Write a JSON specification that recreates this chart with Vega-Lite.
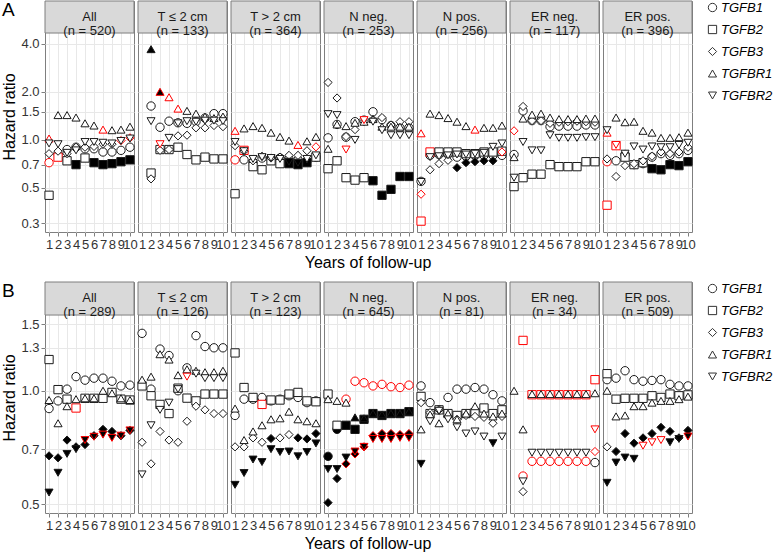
{
"$schema": "https://vega.github.io/schema/vega-lite/v6.json",
"background": "white",
"padding": {"left": 1, "top": 0, "right": 0, "bottom": 0},
"config": {
  "font": "Liberation Sans",
  "view": {"stroke": "#7f7f7f", "strokeWidth": 1},
  "axis": {"labelFont": "Liberation Sans", "labelFontSize": 13, "labelColor": "#333333", "tickColor": "#7f7f7f", "tickSize": 4, "labelPadding": 2, "domain": false, "gridColor": "#e8e8e8", "titleFont": "Liberation Sans", "titleFontSize": 16, "titleFontWeight": "normal", "titleColor": "#000000"},
  "header": {"titleFont": "Liberation Sans", "titleFontSize": 16, "titleFontWeight": "normal", "titleColor": "#000000"},
  "legend": {"labelFont": "Liberation Sans", "labelFontSize": 13, "labelFontStyle": "italic", "labelColor": "#000000", "rowPadding": 8, "padding": 0, "offset": 10, "labelOffset": 2}
},
"datasets": {
"a": [
{"p":"All","g":"TGFB1","year":1,"hr":0.72,"s":"r"},{"p":"All","g":"TGFB1","year":2,"hr":0.82,"s":"o"},{"p":"All","g":"TGFB1","year":3,"hr":0.87,"s":"o"},{"p":"All","g":"TGFB1","year":4,"hr":0.9,"s":"o"},{"p":"All","g":"TGFB1","year":5,"hr":0.88,"s":"o"},{"p":"All","g":"TGFB1","year":6,"hr":0.88,"s":"o"},{"p":"All","g":"TGFB1","year":7,"hr":0.84,"s":"o"},{"p":"All","g":"TGFB1","year":8,"hr":0.84,"s":"o"},{"p":"All","g":"TGFB1","year":9,"hr":0.86,"s":"o"},{"p":"All","g":"TGFB1","year":10,"hr":0.9,"s":"o"},
{"p":"All","g":"TGFB2","year":1,"hr":0.45,"s":"o"},{"p":"All","g":"TGFB2","year":2,"hr":0.78,"s":"r"},{"p":"All","g":"TGFB2","year":3,"hr":0.74,"s":"o"},{"p":"All","g":"TGFB2","year":4,"hr":0.7,"s":"f"},{"p":"All","g":"TGFB2","year":5,"hr":0.77,"s":"o"},{"p":"All","g":"TGFB2","year":6,"hr":0.72,"s":"f"},{"p":"All","g":"TGFB2","year":7,"hr":0.7,"s":"f"},{"p":"All","g":"TGFB2","year":8,"hr":0.71,"s":"f"},{"p":"All","g":"TGFB2","year":9,"hr":0.73,"s":"f"},{"p":"All","g":"TGFB2","year":10,"hr":0.75,"s":"f"},
{"p":"All","g":"TGFB3","year":1,"hr":0.82,"s":"o"},{"p":"All","g":"TGFB3","year":2,"hr":0.85,"s":"o"},{"p":"All","g":"TGFB3","year":3,"hr":0.82,"s":"o"},{"p":"All","g":"TGFB3","year":4,"hr":0.9,"s":"o"},{"p":"All","g":"TGFB3","year":5,"hr":0.9,"s":"o"},{"p":"All","g":"TGFB3","year":6,"hr":0.91,"s":"o"},{"p":"All","g":"TGFB3","year":7,"hr":0.94,"s":"o"},{"p":"All","g":"TGFB3","year":8,"hr":0.94,"s":"o"},{"p":"All","g":"TGFB3","year":9,"hr":0.99,"s":"r"},{"p":"All","g":"TGFB3","year":10,"hr":1.03,"s":"r"},
{"p":"All","g":"TGFBR1","year":1,"hr":1.02,"s":"r"},{"p":"All","g":"TGFBR1","year":2,"hr":1.43,"s":"o"},{"p":"All","g":"TGFBR1","year":3,"hr":1.43,"s":"o"},{"p":"All","g":"TGFBR1","year":4,"hr":1.38,"s":"o"},{"p":"All","g":"TGFBR1","year":5,"hr":1.27,"s":"o"},{"p":"All","g":"TGFBR1","year":6,"hr":1.23,"s":"o"},{"p":"All","g":"TGFBR1","year":7,"hr":1.16,"s":"r"},{"p":"All","g":"TGFBR1","year":8,"hr":1.15,"s":"o"},{"p":"All","g":"TGFBR1","year":9,"hr":1.16,"s":"o"},{"p":"All","g":"TGFBR1","year":10,"hr":1.21,"s":"o"},
{"p":"All","g":"TGFBR2","year":1,"hr":0.95,"s":"o"},{"p":"All","g":"TGFBR2","year":2,"hr":0.94,"s":"o"},{"p":"All","g":"TGFBR2","year":3,"hr":0.83,"s":"o"},{"p":"All","g":"TGFBR2","year":4,"hr":0.86,"s":"o"},{"p":"All","g":"TGFBR2","year":5,"hr":0.97,"s":"o"},{"p":"All","g":"TGFBR2","year":6,"hr":0.97,"s":"o"},{"p":"All","g":"TGFBR2","year":7,"hr":0.96,"s":"o"},{"p":"All","g":"TGFBR2","year":8,"hr":0.95,"s":"o"},{"p":"All","g":"TGFBR2","year":9,"hr":0.985,"s":"o"},{"p":"All","g":"TGFBR2","year":10,"hr":1.02,"s":"o"},
{"p":"Tle2","g":"TGFB1","year":2,"hr":1.63,"s":"o"},{"p":"Tle2","g":"TGFB1","year":3,"hr":1.2,"s":"o"},{"p":"Tle2","g":"TGFB1","year":4,"hr":1.31,"s":"o"},{"p":"Tle2","g":"TGFB1","year":5,"hr":1.28,"s":"o"},{"p":"Tle2","g":"TGFB1","year":6,"hr":1.27,"s":"o"},{"p":"Tle2","g":"TGFB1","year":7,"hr":1.3,"s":"o"},{"p":"Tle2","g":"TGFB1","year":8,"hr":1.37,"s":"o"},{"p":"Tle2","g":"TGFB1","year":9,"hr":1.46,"s":"o"},{"p":"Tle2","g":"TGFB1","year":10,"hr":1.46,"s":"o"},
{"p":"Tle2","g":"TGFB2","year":2,"hr":0.62,"s":"o"},{"p":"Tle2","g":"TGFB2","year":3,"hr":0.87,"s":"o"},{"p":"Tle2","g":"TGFB2","year":4,"hr":0.87,"s":"o"},{"p":"Tle2","g":"TGFB2","year":5,"hr":0.9,"s":"o"},{"p":"Tle2","g":"TGFB2","year":6,"hr":0.81,"s":"o"},{"p":"Tle2","g":"TGFB2","year":7,"hr":0.75,"s":"o"},{"p":"Tle2","g":"TGFB2","year":8,"hr":0.78,"s":"o"},{"p":"Tle2","g":"TGFB2","year":9,"hr":0.76,"s":"o"},{"p":"Tle2","g":"TGFB2","year":10,"hr":0.76,"s":"o"},
{"p":"Tle2","g":"TGFB3","year":2,"hr":0.57,"s":"o"},{"p":"Tle2","g":"TGFB3","year":3,"hr":0.86,"s":"o"},{"p":"Tle2","g":"TGFB3","year":4,"hr":0.87,"s":"o"},{"p":"Tle2","g":"TGFB3","year":5,"hr":1.06,"s":"o"},{"p":"Tle2","g":"TGFB3","year":6,"hr":1.07,"s":"o"},{"p":"Tle2","g":"TGFB3","year":7,"hr":1.19,"s":"o"},{"p":"Tle2","g":"TGFB3","year":8,"hr":1.19,"s":"o"},{"p":"Tle2","g":"TGFB3","year":9,"hr":1.23,"s":"o"},{"p":"Tle2","g":"TGFB3","year":10,"hr":1.21,"s":"o"},
{"p":"Tle2","g":"TGFBR1","year":2,"hr":3.7,"s":"f"},{"p":"Tle2","g":"TGFBR1","year":3,"hr":2.0,"s":"rf"},{"p":"Tle2","g":"TGFBR1","year":4,"hr":1.85,"s":"r"},{"p":"Tle2","g":"TGFBR1","year":5,"hr":1.57,"s":"r"},{"p":"Tle2","g":"TGFBR1","year":6,"hr":1.52,"s":"o"},{"p":"Tle2","g":"TGFBR1","year":7,"hr":1.46,"s":"o"},{"p":"Tle2","g":"TGFBR1","year":8,"hr":1.4,"s":"o"},{"p":"Tle2","g":"TGFBR1","year":9,"hr":1.37,"s":"o"},{"p":"Tle2","g":"TGFBR1","year":10,"hr":1.4,"s":"o"},
{"p":"Tle2","g":"TGFBR2","year":2,"hr":1.31,"s":"o"},{"p":"Tle2","g":"TGFBR2","year":3,"hr":0.94,"s":"r"},{"p":"Tle2","g":"TGFBR2","year":4,"hr":1.03,"s":"o"},{"p":"Tle2","g":"TGFBR2","year":5,"hr":1.27,"s":"o"},{"p":"Tle2","g":"TGFBR2","year":6,"hr":1.31,"s":"o"},{"p":"Tle2","g":"TGFBR2","year":7,"hr":1.3,"s":"o"},{"p":"Tle2","g":"TGFBR2","year":8,"hr":1.32,"s":"o"},{"p":"Tle2","g":"TGFBR2","year":9,"hr":1.32,"s":"o"},{"p":"Tle2","g":"TGFBR2","year":10,"hr":1.31,"s":"o"},
{"p":"Tgt2","g":"TGFB1","year":1,"hr":0.75,"s":"r"},{"p":"Tgt2","g":"TGFB1","year":2,"hr":0.75,"s":"o"},{"p":"Tgt2","g":"TGFB1","year":3,"hr":0.73,"s":"o"},{"p":"Tgt2","g":"TGFB1","year":4,"hr":0.77,"s":"o"},{"p":"Tgt2","g":"TGFB1","year":5,"hr":0.76,"s":"o"},{"p":"Tgt2","g":"TGFB1","year":6,"hr":0.77,"s":"o"},{"p":"Tgt2","g":"TGFB1","year":7,"hr":0.76,"s":"o"},{"p":"Tgt2","g":"TGFB1","year":8,"hr":0.75,"s":"o"},{"p":"Tgt2","g":"TGFB1","year":9,"hr":0.74,"s":"f"},{"p":"Tgt2","g":"TGFB1","year":10,"hr":0.78,"s":"o"},
{"p":"Tgt2","g":"TGFB2","year":1,"hr":0.46,"s":"o"},{"p":"Tgt2","g":"TGFB2","year":2,"hr":0.86,"s":"r"},{"p":"Tgt2","g":"TGFB2","year":3,"hr":0.68,"s":"o"},{"p":"Tgt2","g":"TGFB2","year":4,"hr":0.65,"s":"o"},{"p":"Tgt2","g":"TGFB2","year":5,"hr":0.74,"s":"o"},{"p":"Tgt2","g":"TGFB2","year":6,"hr":0.71,"s":"o"},{"p":"Tgt2","g":"TGFB2","year":7,"hr":0.71,"s":"f"},{"p":"Tgt2","g":"TGFB2","year":8,"hr":0.7,"s":"f"},{"p":"Tgt2","g":"TGFB2","year":9,"hr":0.72,"s":"f"},{"p":"Tgt2","g":"TGFB2","year":10,"hr":0.78,"s":"o"},
{"p":"Tgt2","g":"TGFB3","year":1,"hr":0.92,"s":"o"},{"p":"Tgt2","g":"TGFB3","year":2,"hr":0.85,"s":"o"},{"p":"Tgt2","g":"TGFB3","year":3,"hr":0.74,"s":"o"},{"p":"Tgt2","g":"TGFB3","year":4,"hr":0.79,"s":"o"},{"p":"Tgt2","g":"TGFB3","year":5,"hr":0.77,"s":"o"},{"p":"Tgt2","g":"TGFB3","year":6,"hr":0.78,"s":"o"},{"p":"Tgt2","g":"TGFB3","year":7,"hr":0.8,"s":"o"},{"p":"Tgt2","g":"TGFB3","year":8,"hr":0.8,"s":"o"},{"p":"Tgt2","g":"TGFB3","year":9,"hr":0.855,"s":"o"},{"p":"Tgt2","g":"TGFB3","year":10,"hr":0.905,"s":"r"},
{"p":"Tgt2","g":"TGFBR1","year":1,"hr":1.14,"s":"r"},{"p":"Tgt2","g":"TGFBR1","year":2,"hr":1.18,"s":"o"},{"p":"Tgt2","g":"TGFBR1","year":3,"hr":1.22,"s":"o"},{"p":"Tgt2","g":"TGFBR1","year":4,"hr":1.19,"s":"o"},{"p":"Tgt2","g":"TGFBR1","year":5,"hr":1.11,"s":"o"},{"p":"Tgt2","g":"TGFBR1","year":6,"hr":1.045,"s":"o"},{"p":"Tgt2","g":"TGFBR1","year":7,"hr":0.99,"s":"o"},{"p":"Tgt2","g":"TGFBR1","year":8,"hr":0.93,"s":"r"},{"p":"Tgt2","g":"TGFBR1","year":9,"hr":0.98,"s":"o"},{"p":"Tgt2","g":"TGFBR1","year":10,"hr":1.045,"s":"o"},
{"p":"Tgt2","g":"TGFBR2","year":1,"hr":0.97,"s":"o"},{"p":"Tgt2","g":"TGFBR2","year":2,"hr":0.85,"s":"o"},{"p":"Tgt2","g":"TGFBR2","year":3,"hr":0.76,"s":"o"},{"p":"Tgt2","g":"TGFBR2","year":4,"hr":0.78,"s":"o"},{"p":"Tgt2","g":"TGFBR2","year":5,"hr":0.77,"s":"o"},{"p":"Tgt2","g":"TGFBR2","year":6,"hr":0.76,"s":"o"},{"p":"Tgt2","g":"TGFBR2","year":7,"hr":0.73,"s":"f"},{"p":"Tgt2","g":"TGFBR2","year":8,"hr":0.72,"s":"f"},{"p":"Tgt2","g":"TGFBR2","year":9,"hr":0.76,"s":"o"},{"p":"Tgt2","g":"TGFBR2","year":10,"hr":0.8,"s":"o"},
{"p":"Nneg","g":"TGFB1","year":1,"hr":1.03,"s":"o"},{"p":"Nneg","g":"TGFB1","year":2,"hr":1.25,"s":"o"},{"p":"Nneg","g":"TGFB1","year":3,"hr":1.04,"s":"o"},{"p":"Nneg","g":"TGFB1","year":4,"hr":1.3,"s":"o"},{"p":"Nneg","g":"TGFB1","year":5,"hr":1.33,"s":"o"},{"p":"Nneg","g":"TGFB1","year":6,"hr":1.5,"s":"o"},{"p":"Nneg","g":"TGFB1","year":7,"hr":1.34,"s":"o"},{"p":"Nneg","g":"TGFB1","year":8,"hr":1.23,"s":"o"},{"p":"Nneg","g":"TGFB1","year":9,"hr":1.19,"s":"o"},{"p":"Nneg","g":"TGFB1","year":10,"hr":1.19,"s":"o"},
{"p":"Nneg","g":"TGFB2","year":1,"hr":0.66,"s":"o"},{"p":"Nneg","g":"TGFB2","year":2,"hr":0.74,"s":"o"},{"p":"Nneg","g":"TGFB2","year":3,"hr":0.58,"s":"o"},{"p":"Nneg","g":"TGFB2","year":4,"hr":0.56,"s":"o"},{"p":"Nneg","g":"TGFB2","year":5,"hr":0.58,"s":"o"},{"p":"Nneg","g":"TGFB2","year":6,"hr":0.555,"s":"f"},{"p":"Nneg","g":"TGFB2","year":7,"hr":0.45,"s":"f"},{"p":"Nneg","g":"TGFB2","year":8,"hr":0.49,"s":"f"},{"p":"Nneg","g":"TGFB2","year":9,"hr":0.59,"s":"f"},{"p":"Nneg","g":"TGFB2","year":10,"hr":0.59,"s":"f"},
{"p":"Nneg","g":"TGFB3","year":1,"hr":2.29,"s":"o"},{"p":"Nneg","g":"TGFB3","year":2,"hr":1.83,"s":"o"},{"p":"Nneg","g":"TGFB3","year":3,"hr":1.05,"s":"o"},{"p":"Nneg","g":"TGFB3","year":4,"hr":1.16,"s":"o"},{"p":"Nneg","g":"TGFB3","year":5,"hr":1.3,"s":"o"},{"p":"Nneg","g":"TGFB3","year":6,"hr":1.34,"s":"o"},{"p":"Nneg","g":"TGFB3","year":7,"hr":1.38,"s":"o"},{"p":"Nneg","g":"TGFB3","year":8,"hr":1.24,"s":"o"},{"p":"Nneg","g":"TGFB3","year":9,"hr":1.3,"s":"o"},{"p":"Nneg","g":"TGFB3","year":10,"hr":1.3,"s":"o"},
{"p":"Nneg","g":"TGFBR1","year":1,"hr":0.88,"s":"o"},{"p":"Nneg","g":"TGFBR1","year":2,"hr":1.25,"s":"o"},{"p":"Nneg","g":"TGFBR1","year":3,"hr":1.22,"s":"o"},{"p":"Nneg","g":"TGFBR1","year":4,"hr":1.28,"s":"o"},{"p":"Nneg","g":"TGFBR1","year":5,"hr":1.3,"s":"o"},{"p":"Nneg","g":"TGFBR1","year":6,"hr":1.35,"s":"o"},{"p":"Nneg","g":"TGFBR1","year":7,"hr":1.21,"s":"o"},{"p":"Nneg","g":"TGFBR1","year":8,"hr":1.21,"s":"o"},{"p":"Nneg","g":"TGFBR1","year":9,"hr":1.21,"s":"o"},{"p":"Nneg","g":"TGFBR1","year":10,"hr":1.21,"s":"o"},
{"p":"Nneg","g":"TGFBR2","year":1,"hr":1.45,"s":"o"},{"p":"Nneg","g":"TGFBR2","year":2,"hr":1.43,"s":"o"},{"p":"Nneg","g":"TGFBR2","year":3,"hr":0.87,"s":"r"},{"p":"Nneg","g":"TGFBR2","year":4,"hr":1.0,"s":"o"},{"p":"Nneg","g":"TGFBR2","year":5,"hr":1.33,"s":"r"},{"p":"Nneg","g":"TGFBR2","year":6,"hr":1.3,"s":"o"},{"p":"Nneg","g":"TGFBR2","year":7,"hr":1.15,"s":"o"},{"p":"Nneg","g":"TGFBR2","year":8,"hr":1.07,"s":"o"},{"p":"Nneg","g":"TGFBR2","year":9,"hr":1.07,"s":"o"},{"p":"Nneg","g":"TGFBR2","year":10,"hr":1.07,"s":"o"},
{"p":"Npos","g":"TGFB1","year":1,"hr":0.55,"s":"o"},{"p":"Npos","g":"TGFB1","year":2,"hr":0.8,"s":"o"},{"p":"Npos","g":"TGFB1","year":3,"hr":0.81,"s":"o"},{"p":"Npos","g":"TGFB1","year":4,"hr":0.81,"s":"o"},{"p":"Npos","g":"TGFB1","year":5,"hr":0.78,"s":"o"},{"p":"Npos","g":"TGFB1","year":6,"hr":0.79,"s":"o"},{"p":"Npos","g":"TGFB1","year":7,"hr":0.8,"s":"o"},{"p":"Npos","g":"TGFB1","year":8,"hr":0.8,"s":"o"},{"p":"Npos","g":"TGFB1","year":9,"hr":0.8,"s":"o"},{"p":"Npos","g":"TGFB1","year":10,"hr":0.8,"s":"o"},
{"p":"Npos","g":"TGFB2","year":1,"hr":0.31,"s":"r"},{"p":"Npos","g":"TGFB2","year":2,"hr":0.84,"s":"r"},{"p":"Npos","g":"TGFB2","year":3,"hr":0.84,"s":"o"},{"p":"Npos","g":"TGFB2","year":4,"hr":0.84,"s":"o"},{"p":"Npos","g":"TGFB2","year":5,"hr":0.84,"s":"o"},{"p":"Npos","g":"TGFB2","year":6,"hr":0.82,"s":"o"},{"p":"Npos","g":"TGFB2","year":7,"hr":0.82,"s":"o"},{"p":"Npos","g":"TGFB2","year":8,"hr":0.84,"s":"o"},{"p":"Npos","g":"TGFB2","year":9,"hr":0.84,"s":"o"},{"p":"Npos","g":"TGFB2","year":10,"hr":0.85,"s":"o"},
{"p":"Npos","g":"TGFB3","year":1,"hr":0.457,"s":"r"},{"p":"Npos","g":"TGFB3","year":2,"hr":0.65,"s":"o"},{"p":"Npos","g":"TGFB3","year":3,"hr":0.71,"s":"o"},{"p":"Npos","g":"TGFB3","year":4,"hr":0.745,"s":"o"},{"p":"Npos","g":"TGFB3","year":5,"hr":0.67,"s":"f"},{"p":"Npos","g":"TGFB3","year":6,"hr":0.72,"s":"f"},{"p":"Npos","g":"TGFB3","year":7,"hr":0.73,"s":"f"},{"p":"Npos","g":"TGFB3","year":8,"hr":0.74,"s":"f"},{"p":"Npos","g":"TGFB3","year":9,"hr":0.74,"s":"f"},{"p":"Npos","g":"TGFB3","year":10,"hr":0.84,"s":"r"},
{"p":"Npos","g":"TGFBR1","year":1,"hr":1.1,"s":"r"},{"p":"Npos","g":"TGFBR1","year":2,"hr":1.46,"s":"o"},{"p":"Npos","g":"TGFBR1","year":3,"hr":1.43,"s":"o"},{"p":"Npos","g":"TGFBR1","year":4,"hr":1.37,"s":"o"},{"p":"Npos","g":"TGFBR1","year":5,"hr":1.3,"s":"o"},{"p":"Npos","g":"TGFBR1","year":6,"hr":1.22,"s":"o"},{"p":"Npos","g":"TGFBR1","year":7,"hr":1.16,"s":"r"},{"p":"Npos","g":"TGFBR1","year":8,"hr":1.19,"s":"o"},{"p":"Npos","g":"TGFBR1","year":9,"hr":1.19,"s":"o"},{"p":"Npos","g":"TGFBR1","year":10,"hr":1.23,"s":"o"},
{"p":"Npos","g":"TGFBR2","year":1,"hr":0.545,"s":"o"},{"p":"Npos","g":"TGFBR2","year":2,"hr":0.78,"s":"o"},{"p":"Npos","g":"TGFBR2","year":3,"hr":0.79,"s":"o"},{"p":"Npos","g":"TGFBR2","year":4,"hr":0.8,"s":"o"},{"p":"Npos","g":"TGFBR2","year":5,"hr":0.81,"s":"o"},{"p":"Npos","g":"TGFBR2","year":6,"hr":0.81,"s":"o"},{"p":"Npos","g":"TGFBR2","year":7,"hr":0.82,"s":"o"},{"p":"Npos","g":"TGFBR2","year":8,"hr":0.83,"s":"o"},{"p":"Npos","g":"TGFBR2","year":9,"hr":0.905,"s":"o"},{"p":"Npos","g":"TGFBR2","year":10,"hr":0.95,"s":"o"},
{"p":"ERneg","g":"TGFB1","year":1,"hr":0.81,"s":"o"},{"p":"ERneg","g":"TGFB1","year":2,"hr":1.52,"s":"o"},{"p":"ERneg","g":"TGFB1","year":3,"hr":1.32,"s":"o"},{"p":"ERneg","g":"TGFB1","year":4,"hr":1.32,"s":"o"},{"p":"ERneg","g":"TGFB1","year":5,"hr":1.21,"s":"o"},{"p":"ERneg","g":"TGFB1","year":6,"hr":1.22,"s":"o"},{"p":"ERneg","g":"TGFB1","year":7,"hr":1.22,"s":"o"},{"p":"ERneg","g":"TGFB1","year":8,"hr":1.22,"s":"o"},{"p":"ERneg","g":"TGFB1","year":9,"hr":1.24,"s":"o"},{"p":"ERneg","g":"TGFB1","year":10,"hr":1.24,"s":"o"},
{"p":"ERneg","g":"TGFB2","year":1,"hr":0.51,"s":"o"},{"p":"ERneg","g":"TGFB2","year":2,"hr":0.58,"s":"o"},{"p":"ERneg","g":"TGFB2","year":3,"hr":0.61,"s":"o"},{"p":"ERneg","g":"TGFB2","year":4,"hr":0.61,"s":"o"},{"p":"ERneg","g":"TGFB2","year":5,"hr":0.7,"s":"o"},{"p":"ERneg","g":"TGFB2","year":6,"hr":0.68,"s":"o"},{"p":"ERneg","g":"TGFB2","year":7,"hr":0.68,"s":"o"},{"p":"ERneg","g":"TGFB2","year":8,"hr":0.68,"s":"o"},{"p":"ERneg","g":"TGFB2","year":9,"hr":0.73,"s":"o"},{"p":"ERneg","g":"TGFB2","year":10,"hr":0.73,"s":"o"},
{"p":"ERneg","g":"TGFB3","year":1,"hr":1.14,"s":"r"},{"p":"ERneg","g":"TGFB3","year":2,"hr":1.62,"s":"o"},{"p":"ERneg","g":"TGFB3","year":3,"hr":1.32,"s":"o"},{"p":"ERneg","g":"TGFB3","year":4,"hr":1.32,"s":"o"},{"p":"ERneg","g":"TGFB3","year":5,"hr":1.27,"s":"o"},{"p":"ERneg","g":"TGFB3","year":6,"hr":1.29,"s":"o"},{"p":"ERneg","g":"TGFB3","year":7,"hr":1.3,"s":"o"},{"p":"ERneg","g":"TGFB3","year":8,"hr":1.31,"s":"o"},{"p":"ERneg","g":"TGFB3","year":9,"hr":1.3,"s":"o"},{"p":"ERneg","g":"TGFB3","year":10,"hr":1.29,"s":"o"},
{"p":"ERneg","g":"TGFBR1","year":1,"hr":0.78,"s":"o"},{"p":"ERneg","g":"TGFBR1","year":2,"hr":1.36,"s":"o"},{"p":"ERneg","g":"TGFBR1","year":3,"hr":1.44,"s":"o"},{"p":"ERneg","g":"TGFBR1","year":4,"hr":1.46,"s":"o"},{"p":"ERneg","g":"TGFBR1","year":5,"hr":1.38,"s":"o"},{"p":"ERneg","g":"TGFBR1","year":6,"hr":1.35,"s":"o"},{"p":"ERneg","g":"TGFBR1","year":7,"hr":1.35,"s":"o"},{"p":"ERneg","g":"TGFBR1","year":8,"hr":1.35,"s":"o"},{"p":"ERneg","g":"TGFBR1","year":9,"hr":1.36,"s":"o"},{"p":"ERneg","g":"TGFBR1","year":10,"hr":1.36,"s":"o"},
{"p":"ERneg","g":"TGFBR2","year":1,"hr":0.58,"s":"o"},{"p":"ERneg","g":"TGFBR2","year":2,"hr":0.97,"s":"o"},{"p":"ERneg","g":"TGFBR2","year":3,"hr":0.86,"s":"o"},{"p":"ERneg","g":"TGFBR2","year":4,"hr":0.86,"s":"o"},{"p":"ERneg","g":"TGFBR2","year":5,"hr":1.07,"s":"o"},{"p":"ERneg","g":"TGFBR2","year":6,"hr":1.03,"s":"o"},{"p":"ERneg","g":"TGFBR2","year":7,"hr":1.03,"s":"o"},{"p":"ERneg","g":"TGFBR2","year":8,"hr":1.03,"s":"o"},{"p":"ERneg","g":"TGFBR2","year":9,"hr":1.04,"s":"o"},{"p":"ERneg","g":"TGFBR2","year":10,"hr":1.04,"s":"o"},
{"p":"ERpos","g":"TGFB1","year":1,"hr":0.73,"s":"r"},{"p":"ERpos","g":"TGFB1","year":2,"hr":0.74,"s":"o"},{"p":"ERpos","g":"TGFB1","year":3,"hr":0.81,"s":"o"},{"p":"ERpos","g":"TGFB1","year":4,"hr":0.7,"s":"o"},{"p":"ERpos","g":"TGFB1","year":5,"hr":0.71,"s":"o"},{"p":"ERpos","g":"TGFB1","year":6,"hr":0.78,"s":"o"},{"p":"ERpos","g":"TGFB1","year":7,"hr":0.82,"s":"o"},{"p":"ERpos","g":"TGFB1","year":8,"hr":0.8,"s":"o"},{"p":"ERpos","g":"TGFB1","year":9,"hr":0.82,"s":"o"},{"p":"ERpos","g":"TGFB1","year":10,"hr":0.86,"s":"o"},
{"p":"ERpos","g":"TGFB2","year":1,"hr":0.39,"s":"r"},{"p":"ERpos","g":"TGFB2","year":2,"hr":0.92,"s":"r"},{"p":"ERpos","g":"TGFB2","year":3,"hr":0.78,"s":"o"},{"p":"ERpos","g":"TGFB2","year":4,"hr":0.7,"s":"o"},{"p":"ERpos","g":"TGFB2","year":5,"hr":0.72,"s":"o"},{"p":"ERpos","g":"TGFB2","year":6,"hr":0.66,"s":"f"},{"p":"ERpos","g":"TGFB2","year":7,"hr":0.65,"s":"f"},{"p":"ERpos","g":"TGFB2","year":8,"hr":0.7,"s":"f"},{"p":"ERpos","g":"TGFB2","year":9,"hr":0.69,"s":"f"},{"p":"ERpos","g":"TGFB2","year":10,"hr":0.73,"s":"f"},
{"p":"ERpos","g":"TGFB3","year":1,"hr":0.76,"s":"o"},{"p":"ERpos","g":"TGFB3","year":2,"hr":0.59,"s":"o"},{"p":"ERpos","g":"TGFB3","year":3,"hr":0.69,"s":"o"},{"p":"ERpos","g":"TGFB3","year":4,"hr":0.71,"s":"o"},{"p":"ERpos","g":"TGFB3","year":5,"hr":0.74,"s":"o"},{"p":"ERpos","g":"TGFB3","year":6,"hr":0.79,"s":"o"},{"p":"ERpos","g":"TGFB3","year":7,"hr":0.84,"s":"o"},{"p":"ERpos","g":"TGFB3","year":8,"hr":0.82,"s":"o"},{"p":"ERpos","g":"TGFB3","year":9,"hr":0.84,"s":"o"},{"p":"ERpos","g":"TGFB3","year":10,"hr":0.9,"s":"o"},
{"p":"ERpos","g":"TGFBR1","year":1,"hr":1.11,"s":"r"},{"p":"ERpos","g":"TGFBR1","year":2,"hr":1.38,"s":"o"},{"p":"ERpos","g":"TGFBR1","year":3,"hr":1.29,"s":"o"},{"p":"ERpos","g":"TGFBR1","year":4,"hr":1.3,"s":"o"},{"p":"ERpos","g":"TGFBR1","year":5,"hr":1.14,"s":"o"},{"p":"ERpos","g":"TGFBR1","year":6,"hr":1.11,"s":"o"},{"p":"ERpos","g":"TGFBR1","year":7,"hr":1.03,"s":"o"},{"p":"ERpos","g":"TGFBR1","year":8,"hr":1.03,"s":"o"},{"p":"ERpos","g":"TGFBR1","year":9,"hr":1.04,"s":"o"},{"p":"ERpos","g":"TGFBR1","year":10,"hr":1.11,"s":"o"},
{"p":"ERpos","g":"TGFBR2","year":1,"hr":1.15,"s":"o"},{"p":"ERpos","g":"TGFBR2","year":2,"hr":0.93,"s":"r"},{"p":"ERpos","g":"TGFBR2","year":3,"hr":0.82,"s":"o"},{"p":"ERpos","g":"TGFBR2","year":4,"hr":0.91,"s":"o"},{"p":"ERpos","g":"TGFBR2","year":5,"hr":0.87,"s":"o"},{"p":"ERpos","g":"TGFBR2","year":6,"hr":0.91,"s":"o"},{"p":"ERpos","g":"TGFBR2","year":7,"hr":0.9,"s":"o"},{"p":"ERpos","g":"TGFBR2","year":8,"hr":0.9,"s":"o"},{"p":"ERpos","g":"TGFBR2","year":9,"hr":0.93,"s":"o"},{"p":"ERpos","g":"TGFBR2","year":10,"hr":0.96,"s":"o"}
],
"b": [
{"p":"All","g":"TGFB1","year":1,"hr":0.897,"s":"o"},{"p":"All","g":"TGFB1","year":2,"hr":0.94,"s":"o"},{"p":"All","g":"TGFB1","year":3,"hr":1.01,"s":"o"},{"p":"All","g":"TGFB1","year":4,"hr":1.09,"s":"o"},{"p":"All","g":"TGFB1","year":5,"hr":1.067,"s":"o"},{"p":"All","g":"TGFB1","year":6,"hr":1.08,"s":"o"},{"p":"All","g":"TGFB1","year":7,"hr":1.08,"s":"o"},{"p":"All","g":"TGFB1","year":8,"hr":1.06,"s":"o"},{"p":"All","g":"TGFB1","year":9,"hr":1.03,"s":"o"},{"p":"All","g":"TGFB1","year":10,"hr":1.035,"s":"o"},
{"p":"All","g":"TGFB2","year":1,"hr":1.21,"s":"o"},{"p":"All","g":"TGFB2","year":2,"hr":1.007,"s":"o"},{"p":"All","g":"TGFB2","year":3,"hr":0.95,"s":"o"},{"p":"All","g":"TGFB2","year":4,"hr":0.9,"s":"r"},{"p":"All","g":"TGFB2","year":5,"hr":0.955,"s":"o"},{"p":"All","g":"TGFB2","year":6,"hr":0.955,"s":"o"},{"p":"All","g":"TGFB2","year":7,"hr":0.955,"s":"o"},{"p":"All","g":"TGFB2","year":8,"hr":0.99,"s":"o"},{"p":"All","g":"TGFB2","year":9,"hr":0.95,"s":"o"},{"p":"All","g":"TGFB2","year":10,"hr":0.945,"s":"o"},
{"p":"All","g":"TGFB3","year":1,"hr":0.672,"s":"f"},{"p":"All","g":"TGFB3","year":2,"hr":0.664,"s":"f"},{"p":"All","g":"TGFB3","year":3,"hr":0.74,"s":"f"},{"p":"All","g":"TGFB3","year":4,"hr":0.71,"s":"f"},{"p":"All","g":"TGFB3","year":5,"hr":0.72,"s":"f"},{"p":"All","g":"TGFB3","year":6,"hr":0.76,"s":"f"},{"p":"All","g":"TGFB3","year":7,"hr":0.79,"s":"f"},{"p":"All","g":"TGFB3","year":8,"hr":0.78,"s":"f"},{"p":"All","g":"TGFB3","year":9,"hr":0.76,"s":"f"},{"p":"All","g":"TGFB3","year":10,"hr":0.785,"s":"f"},
{"p":"All","g":"TGFBR1","year":1,"hr":0.945,"s":"o"},{"p":"All","g":"TGFBR1","year":2,"hr":0.82,"s":"o"},{"p":"All","g":"TGFBR1","year":3,"hr":0.91,"s":"o"},{"p":"All","g":"TGFBR1","year":4,"hr":0.95,"s":"o"},{"p":"All","g":"TGFBR1","year":5,"hr":0.955,"s":"o"},{"p":"All","g":"TGFBR1","year":6,"hr":0.955,"s":"o"},{"p":"All","g":"TGFBR1","year":7,"hr":1.0,"s":"o"},{"p":"All","g":"TGFBR1","year":8,"hr":0.985,"s":"o"},{"p":"All","g":"TGFBR1","year":9,"hr":0.955,"s":"o"},{"p":"All","g":"TGFBR1","year":10,"hr":0.945,"s":"o"},
{"p":"All","g":"TGFBR2","year":1,"hr":0.537,"s":"f"},{"p":"All","g":"TGFBR2","year":2,"hr":0.606,"s":"f"},{"p":"All","g":"TGFBR2","year":3,"hr":0.68,"s":"f"},{"p":"All","g":"TGFBR2","year":4,"hr":0.7,"s":"f"},{"p":"All","g":"TGFBR2","year":5,"hr":0.74,"s":"rf"},{"p":"All","g":"TGFBR2","year":6,"hr":0.755,"s":"rf"},{"p":"All","g":"TGFBR2","year":7,"hr":0.765,"s":"rf"},{"p":"All","g":"TGFBR2","year":8,"hr":0.75,"s":"rf"},{"p":"All","g":"TGFBR2","year":9,"hr":0.76,"s":"rf"},{"p":"All","g":"TGFBR2","year":10,"hr":0.785,"s":"rf"},
{"p":"Tle2","g":"TGFB1","year":1,"hr":1.42,"s":"o"},{"p":"Tle2","g":"TGFB1","year":2,"hr":1.01,"s":"o"},{"p":"Tle2","g":"TGFB1","year":3,"hr":1.29,"s":"o"},{"p":"Tle2","g":"TGFB1","year":4,"hr":1.24,"s":"o"},{"p":"Tle2","g":"TGFB1","year":5,"hr":1.0,"s":"o"},{"p":"Tle2","g":"TGFB1","year":6,"hr":1.15,"s":"o"},{"p":"Tle2","g":"TGFB1","year":7,"hr":1.4,"s":"o"},{"p":"Tle2","g":"TGFB1","year":8,"hr":1.31,"s":"o"},{"p":"Tle2","g":"TGFB1","year":9,"hr":1.3,"s":"o"},{"p":"Tle2","g":"TGFB1","year":10,"hr":1.3,"s":"o"},
{"p":"Tle2","g":"TGFB2","year":1,"hr":1.03,"s":"o"},{"p":"Tle2","g":"TGFB2","year":2,"hr":0.97,"s":"o"},{"p":"Tle2","g":"TGFB2","year":3,"hr":0.92,"s":"o"},{"p":"Tle2","g":"TGFB2","year":4,"hr":0.87,"s":"o"},{"p":"Tle2","g":"TGFB2","year":5,"hr":1.016,"s":"o"},{"p":"Tle2","g":"TGFB2","year":6,"hr":0.956,"s":"o"},{"p":"Tle2","g":"TGFB2","year":7,"hr":0.94,"s":"o"},{"p":"Tle2","g":"TGFB2","year":8,"hr":0.98,"s":"o"},{"p":"Tle2","g":"TGFB2","year":9,"hr":0.98,"s":"o"},{"p":"Tle2","g":"TGFB2","year":10,"hr":0.98,"s":"o"},
{"p":"Tle2","g":"TGFB3","year":1,"hr":0.73,"s":"o"},{"p":"Tle2","g":"TGFB3","year":2,"hr":0.64,"s":"o"},{"p":"Tle2","g":"TGFB3","year":3,"hr":0.78,"s":"o"},{"p":"Tle2","g":"TGFB3","year":4,"hr":0.74,"s":"o"},{"p":"Tle2","g":"TGFB3","year":5,"hr":0.73,"s":"o"},{"p":"Tle2","g":"TGFB3","year":6,"hr":0.83,"s":"o"},{"p":"Tle2","g":"TGFB3","year":7,"hr":0.91,"s":"o"},{"p":"Tle2","g":"TGFB3","year":8,"hr":0.89,"s":"o"},{"p":"Tle2","g":"TGFB3","year":9,"hr":0.87,"s":"o"},{"p":"Tle2","g":"TGFB3","year":10,"hr":0.87,"s":"o"},
{"p":"Tle2","g":"TGFBR1","year":1,"hr":1.07,"s":"o"},{"p":"Tle2","g":"TGFBR1","year":2,"hr":1.09,"s":"o"},{"p":"Tle2","g":"TGFBR1","year":3,"hr":1.25,"s":"o"},{"p":"Tle2","g":"TGFBR1","year":4,"hr":1.21,"s":"o"},{"p":"Tle2","g":"TGFBR1","year":5,"hr":1.1,"s":"o"},{"p":"Tle2","g":"TGFBR1","year":6,"hr":1.14,"s":"o"},{"p":"Tle2","g":"TGFBR1","year":7,"hr":1.13,"s":"o"},{"p":"Tle2","g":"TGFBR1","year":8,"hr":1.12,"s":"o"},{"p":"Tle2","g":"TGFBR1","year":9,"hr":1.12,"s":"o"},{"p":"Tle2","g":"TGFBR1","year":10,"hr":1.13,"s":"o"},
{"p":"Tle2","g":"TGFBR2","year":1,"hr":0.6,"s":"o"},{"p":"Tle2","g":"TGFBR2","year":2,"hr":0.81,"s":"o"},{"p":"Tle2","g":"TGFBR2","year":3,"hr":0.89,"s":"o"},{"p":"Tle2","g":"TGFBR2","year":4,"hr":0.93,"s":"o"},{"p":"Tle2","g":"TGFBR2","year":5,"hr":1.01,"s":"o"},{"p":"Tle2","g":"TGFBR2","year":6,"hr":1.09,"s":"r"},{"p":"Tle2","g":"TGFBR2","year":7,"hr":1.11,"s":"o"},{"p":"Tle2","g":"TGFBR2","year":8,"hr":1.08,"s":"o"},{"p":"Tle2","g":"TGFBR2","year":9,"hr":1.08,"s":"o"},{"p":"Tle2","g":"TGFBR2","year":10,"hr":1.08,"s":"o"},
{"p":"Tgt2","g":"TGFB1","year":1,"hr":0.86,"s":"o"},{"p":"Tgt2","g":"TGFB1","year":2,"hr":0.95,"s":"o"},{"p":"Tgt2","g":"TGFB1","year":3,"hr":0.95,"s":"o"},{"p":"Tgt2","g":"TGFB1","year":4,"hr":0.96,"s":"o"},{"p":"Tgt2","g":"TGFB1","year":5,"hr":0.94,"s":"o"},{"p":"Tgt2","g":"TGFB1","year":6,"hr":0.95,"s":"o"},{"p":"Tgt2","g":"TGFB1","year":7,"hr":0.97,"s":"o"},{"p":"Tgt2","g":"TGFB1","year":8,"hr":0.96,"s":"o"},{"p":"Tgt2","g":"TGFB1","year":9,"hr":0.93,"s":"o"},{"p":"Tgt2","g":"TGFB1","year":10,"hr":0.94,"s":"o"},
{"p":"Tgt2","g":"TGFB2","year":1,"hr":1.26,"s":"o"},{"p":"Tgt2","g":"TGFB2","year":2,"hr":1.02,"s":"o"},{"p":"Tgt2","g":"TGFB2","year":3,"hr":0.96,"s":"o"},{"p":"Tgt2","g":"TGFB2","year":4,"hr":0.92,"s":"r"},{"p":"Tgt2","g":"TGFB2","year":5,"hr":0.945,"s":"o"},{"p":"Tgt2","g":"TGFB2","year":6,"hr":0.945,"s":"o"},{"p":"Tgt2","g":"TGFB2","year":7,"hr":0.98,"s":"o"},{"p":"Tgt2","g":"TGFB2","year":8,"hr":0.99,"s":"o"},{"p":"Tgt2","g":"TGFB2","year":9,"hr":0.94,"s":"o"},{"p":"Tgt2","g":"TGFB2","year":10,"hr":0.935,"s":"o"},
{"p":"Tgt2","g":"TGFB3","year":1,"hr":0.71,"s":"o"},{"p":"Tgt2","g":"TGFB3","year":2,"hr":0.71,"s":"o"},{"p":"Tgt2","g":"TGFB3","year":3,"hr":0.75,"s":"o"},{"p":"Tgt2","g":"TGFB3","year":4,"hr":0.73,"s":"o"},{"p":"Tgt2","g":"TGFB3","year":5,"hr":0.747,"s":"f"},{"p":"Tgt2","g":"TGFB3","year":6,"hr":0.75,"s":"o"},{"p":"Tgt2","g":"TGFB3","year":7,"hr":0.765,"s":"o"},{"p":"Tgt2","g":"TGFB3","year":8,"hr":0.75,"s":"f"},{"p":"Tgt2","g":"TGFB3","year":9,"hr":0.745,"s":"f"},{"p":"Tgt2","g":"TGFB3","year":10,"hr":0.77,"s":"f"},
{"p":"Tgt2","g":"TGFBR1","year":1,"hr":0.897,"s":"o"},{"p":"Tgt2","g":"TGFBR1","year":2,"hr":0.74,"s":"o"},{"p":"Tgt2","g":"TGFBR1","year":3,"hr":0.78,"s":"o"},{"p":"Tgt2","g":"TGFBR1","year":4,"hr":0.81,"s":"o"},{"p":"Tgt2","g":"TGFBR1","year":5,"hr":0.84,"s":"o"},{"p":"Tgt2","g":"TGFBR1","year":6,"hr":0.845,"s":"o"},{"p":"Tgt2","g":"TGFBR1","year":7,"hr":0.88,"s":"o"},{"p":"Tgt2","g":"TGFBR1","year":8,"hr":0.84,"s":"o"},{"p":"Tgt2","g":"TGFBR1","year":9,"hr":0.83,"s":"o"},{"p":"Tgt2","g":"TGFBR1","year":10,"hr":0.82,"s":"o"},
{"p":"Tgt2","g":"TGFBR2","year":1,"hr":0.563,"s":"f"},{"p":"Tgt2","g":"TGFBR2","year":2,"hr":0.605,"s":"f"},{"p":"Tgt2","g":"TGFBR2","year":3,"hr":0.657,"s":"f"},{"p":"Tgt2","g":"TGFBR2","year":4,"hr":0.647,"s":"f"},{"p":"Tgt2","g":"TGFBR2","year":5,"hr":0.7,"s":"f"},{"p":"Tgt2","g":"TGFBR2","year":6,"hr":0.688,"s":"f"},{"p":"Tgt2","g":"TGFBR2","year":7,"hr":0.69,"s":"f"},{"p":"Tgt2","g":"TGFBR2","year":8,"hr":0.67,"s":"f"},{"p":"Tgt2","g":"TGFBR2","year":9,"hr":0.688,"s":"f"},{"p":"Tgt2","g":"TGFBR2","year":10,"hr":0.725,"s":"f"},
{"p":"Nneg","g":"TGFB1","year":1,"hr":0.67,"s":"f"},{"p":"Nneg","g":"TGFB1","year":2,"hr":0.79,"s":"f"},{"p":"Nneg","g":"TGFB1","year":3,"hr":0.95,"s":"r"},{"p":"Nneg","g":"TGFB1","year":4,"hr":1.06,"s":"r"},{"p":"Nneg","g":"TGFB1","year":5,"hr":1.05,"s":"r"},{"p":"Nneg","g":"TGFB1","year":6,"hr":1.03,"s":"r"},{"p":"Nneg","g":"TGFB1","year":7,"hr":1.04,"s":"r"},{"p":"Nneg","g":"TGFB1","year":8,"hr":1.025,"s":"r"},{"p":"Nneg","g":"TGFB1","year":9,"hr":1.02,"s":"r"},{"p":"Nneg","g":"TGFB1","year":10,"hr":1.035,"s":"r"},
{"p":"Nneg","g":"TGFB2","year":1,"hr":0.98,"s":"o"},{"p":"Nneg","g":"TGFB2","year":2,"hr":0.81,"s":"o"},{"p":"Nneg","g":"TGFB2","year":3,"hr":0.81,"s":"f"},{"p":"Nneg","g":"TGFB2","year":4,"hr":0.79,"s":"f"},{"p":"Nneg","g":"TGFB2","year":5,"hr":0.84,"s":"f"},{"p":"Nneg","g":"TGFB2","year":6,"hr":0.87,"s":"f"},{"p":"Nneg","g":"TGFB2","year":7,"hr":0.86,"s":"f"},{"p":"Nneg","g":"TGFB2","year":8,"hr":0.87,"s":"f"},{"p":"Nneg","g":"TGFB2","year":9,"hr":0.87,"s":"f"},{"p":"Nneg","g":"TGFB2","year":10,"hr":0.88,"s":"f"},
{"p":"Nneg","g":"TGFB3","year":1,"hr":0.505,"s":"f"},{"p":"Nneg","g":"TGFB3","year":2,"hr":0.585,"s":"f"},{"p":"Nneg","g":"TGFB3","year":3,"hr":0.64,"s":"rf"},{"p":"Nneg","g":"TGFB3","year":4,"hr":0.68,"s":"rf"},{"p":"Nneg","g":"TGFB3","year":5,"hr":0.71,"s":"rf"},{"p":"Nneg","g":"TGFB3","year":6,"hr":0.76,"s":"rf"},{"p":"Nneg","g":"TGFB3","year":7,"hr":0.77,"s":"rf"},{"p":"Nneg","g":"TGFB3","year":8,"hr":0.77,"s":"rf"},{"p":"Nneg","g":"TGFB3","year":9,"hr":0.765,"s":"rf"},{"p":"Nneg","g":"TGFB3","year":10,"hr":0.77,"s":"rf"},
{"p":"Nneg","g":"TGFBR1","year":1,"hr":0.95,"s":"o"},{"p":"Nneg","g":"TGFBR1","year":2,"hr":0.94,"s":"o"},{"p":"Nneg","g":"TGFBR1","year":3,"hr":0.93,"s":"o"},{"p":"Nneg","g":"TGFBR1","year":4,"hr":0.85,"s":"f"},{"p":"Nneg","g":"TGFBR1","year":5,"hr":0.845,"s":"f"},{"p":"Nneg","g":"TGFBR1","year":6,"hr":0.87,"s":"f"},{"p":"Nneg","g":"TGFBR1","year":7,"hr":0.865,"s":"f"},{"p":"Nneg","g":"TGFBR1","year":8,"hr":0.87,"s":"f"},{"p":"Nneg","g":"TGFBR1","year":9,"hr":0.87,"s":"f"},{"p":"Nneg","g":"TGFBR1","year":10,"hr":0.88,"s":"f"},
{"p":"Nneg","g":"TGFBR2","year":1,"hr":0.62,"s":"f"},{"p":"Nneg","g":"TGFBR2","year":2,"hr":0.62,"s":"f"},{"p":"Nneg","g":"TGFBR2","year":3,"hr":0.665,"s":"f"},{"p":"Nneg","g":"TGFBR2","year":4,"hr":0.69,"s":"rf"},{"p":"Nneg","g":"TGFBR2","year":5,"hr":0.71,"s":"rf"},{"p":"Nneg","g":"TGFBR2","year":6,"hr":0.745,"s":"rf"},{"p":"Nneg","g":"TGFBR2","year":7,"hr":0.745,"s":"rf"},{"p":"Nneg","g":"TGFBR2","year":8,"hr":0.745,"s":"rf"},{"p":"Nneg","g":"TGFBR2","year":9,"hr":0.75,"s":"rf"},{"p":"Nneg","g":"TGFBR2","year":10,"hr":0.75,"s":"rf"},
{"p":"Npos","g":"TGFB1","year":1,"hr":1.03,"s":"o"},{"p":"Npos","g":"TGFB1","year":2,"hr":0.93,"s":"o"},{"p":"Npos","g":"TGFB1","year":3,"hr":0.89,"s":"o"},{"p":"Npos","g":"TGFB1","year":4,"hr":0.96,"s":"o"},{"p":"Npos","g":"TGFB1","year":5,"hr":1.01,"s":"o"},{"p":"Npos","g":"TGFB1","year":6,"hr":1.01,"s":"o"},{"p":"Npos","g":"TGFB1","year":7,"hr":1.02,"s":"o"},{"p":"Npos","g":"TGFB1","year":8,"hr":1.01,"s":"o"},{"p":"Npos","g":"TGFB1","year":9,"hr":0.976,"s":"o"},{"p":"Npos","g":"TGFB1","year":10,"hr":0.94,"s":"o"},
{"p":"Npos","g":"TGFB2","year":1,"hr":0.966,"s":"o"},{"p":"Npos","g":"TGFB2","year":2,"hr":0.87,"s":"o"},{"p":"Npos","g":"TGFB2","year":3,"hr":0.89,"s":"o"},{"p":"Npos","g":"TGFB2","year":4,"hr":0.87,"s":"o"},{"p":"Npos","g":"TGFB2","year":5,"hr":0.86,"s":"o"},{"p":"Npos","g":"TGFB2","year":6,"hr":0.87,"s":"o"},{"p":"Npos","g":"TGFB2","year":7,"hr":0.875,"s":"o"},{"p":"Npos","g":"TGFB2","year":8,"hr":0.9,"s":"o"},{"p":"Npos","g":"TGFB2","year":9,"hr":0.87,"s":"o"},{"p":"Npos","g":"TGFB2","year":10,"hr":0.89,"s":"o"},
{"p":"Npos","g":"TGFB3","year":1,"hr":0.93,"s":"o"},{"p":"Npos","g":"TGFB3","year":2,"hr":0.875,"s":"o"},{"p":"Npos","g":"TGFB3","year":3,"hr":0.89,"s":"o"},{"p":"Npos","g":"TGFB3","year":4,"hr":0.855,"s":"o"},{"p":"Npos","g":"TGFB3","year":5,"hr":0.84,"s":"o"},{"p":"Npos","g":"TGFB3","year":6,"hr":0.86,"s":"o"},{"p":"Npos","g":"TGFB3","year":7,"hr":0.855,"s":"o"},{"p":"Npos","g":"TGFB3","year":8,"hr":0.85,"s":"o"},{"p":"Npos","g":"TGFB3","year":9,"hr":0.82,"s":"o"},{"p":"Npos","g":"TGFB3","year":10,"hr":0.855,"s":"o"},
{"p":"Npos","g":"TGFBR1","year":1,"hr":0.79,"s":"o"},{"p":"Npos","g":"TGFBR1","year":2,"hr":0.865,"s":"o"},{"p":"Npos","g":"TGFBR1","year":3,"hr":0.82,"s":"o"},{"p":"Npos","g":"TGFBR1","year":4,"hr":0.87,"s":"o"},{"p":"Npos","g":"TGFBR1","year":5,"hr":0.84,"s":"o"},{"p":"Npos","g":"TGFBR1","year":6,"hr":0.87,"s":"o"},{"p":"Npos","g":"TGFBR1","year":7,"hr":0.91,"s":"o"},{"p":"Npos","g":"TGFBR1","year":8,"hr":0.87,"s":"o"},{"p":"Npos","g":"TGFBR1","year":9,"hr":0.855,"s":"o"},{"p":"Npos","g":"TGFBR1","year":10,"hr":0.87,"s":"o"},
{"p":"Npos","g":"TGFBR2","year":1,"hr":0.64,"s":"f"},{"p":"Npos","g":"TGFBR2","year":2,"hr":0.83,"s":"o"},{"p":"Npos","g":"TGFBR2","year":3,"hr":0.885,"s":"o"},{"p":"Npos","g":"TGFBR2","year":4,"hr":0.84,"s":"o"},{"p":"Npos","g":"TGFBR2","year":5,"hr":0.8,"s":"o"},{"p":"Npos","g":"TGFBR2","year":6,"hr":0.77,"s":"o"},{"p":"Npos","g":"TGFBR2","year":7,"hr":0.78,"s":"o"},{"p":"Npos","g":"TGFBR2","year":8,"hr":0.756,"s":"o"},{"p":"Npos","g":"TGFBR2","year":9,"hr":0.726,"s":"f"},{"p":"Npos","g":"TGFBR2","year":10,"hr":0.756,"s":"o"},
{"p":"ERneg","g":"TGFB1","year":2,"hr":0.594,"s":"r"},{"p":"ERneg","g":"TGFB1","year":3,"hr":0.65,"s":"r"},{"p":"ERneg","g":"TGFB1","year":4,"hr":0.65,"s":"r"},{"p":"ERneg","g":"TGFB1","year":5,"hr":0.65,"s":"r"},{"p":"ERneg","g":"TGFB1","year":6,"hr":0.65,"s":"r"},{"p":"ERneg","g":"TGFB1","year":7,"hr":0.65,"s":"r"},{"p":"ERneg","g":"TGFB1","year":8,"hr":0.65,"s":"r"},{"p":"ERneg","g":"TGFB1","year":9,"hr":0.65,"s":"r"},{"p":"ERneg","g":"TGFB1","year":10,"hr":0.645,"s":"o"},
{"p":"ERneg","g":"TGFB2","year":2,"hr":1.36,"s":"r"},{"p":"ERneg","g":"TGFB2","year":3,"hr":0.976,"s":"r"},{"p":"ERneg","g":"TGFB2","year":4,"hr":0.976,"s":"r"},{"p":"ERneg","g":"TGFB2","year":5,"hr":0.976,"s":"r"},{"p":"ERneg","g":"TGFB2","year":6,"hr":0.976,"s":"r"},{"p":"ERneg","g":"TGFB2","year":7,"hr":0.976,"s":"r"},{"p":"ERneg","g":"TGFB2","year":8,"hr":0.976,"s":"r"},{"p":"ERneg","g":"TGFB2","year":9,"hr":0.976,"s":"r"},{"p":"ERneg","g":"TGFB2","year":10,"hr":1.07,"s":"r"},
{"p":"ERneg","g":"TGFB3","year":2,"hr":0.54,"s":"o"},{"p":"ERneg","g":"TGFB3","year":10,"hr":0.69,"s":"r"},
{"p":"ERneg","g":"TGFBR1","year":1,"hr":1.0,"s":"o"},{"p":"ERneg","g":"TGFBR1","year":2,"hr":0.79,"s":"o"},{"p":"ERneg","g":"TGFBR1","year":3,"hr":0.98,"s":"o"},{"p":"ERneg","g":"TGFBR1","year":4,"hr":0.98,"s":"o"},{"p":"ERneg","g":"TGFBR1","year":5,"hr":0.98,"s":"o"},{"p":"ERneg","g":"TGFBR1","year":6,"hr":0.98,"s":"o"},{"p":"ERneg","g":"TGFBR1","year":7,"hr":0.98,"s":"o"},{"p":"ERneg","g":"TGFBR1","year":8,"hr":0.98,"s":"o"},{"p":"ERneg","g":"TGFBR1","year":9,"hr":0.98,"s":"o"},{"p":"ERneg","g":"TGFBR1","year":10,"hr":0.985,"s":"o"},
{"p":"ERneg","g":"TGFBR2","year":2,"hr":0.575,"s":"o"},{"p":"ERneg","g":"TGFBR2","year":3,"hr":0.685,"s":"o"},{"p":"ERneg","g":"TGFBR2","year":4,"hr":0.685,"s":"o"},{"p":"ERneg","g":"TGFBR2","year":5,"hr":0.685,"s":"o"},{"p":"ERneg","g":"TGFBR2","year":6,"hr":0.685,"s":"o"},{"p":"ERneg","g":"TGFBR2","year":7,"hr":0.685,"s":"o"},{"p":"ERneg","g":"TGFBR2","year":8,"hr":0.685,"s":"o"},{"p":"ERneg","g":"TGFBR2","year":9,"hr":0.685,"s":"o"},{"p":"ERneg","g":"TGFBR2","year":10,"hr":0.79,"s":"r"},
{"p":"ERpos","g":"TGFB1","year":1,"hr":1.07,"s":"o"},{"p":"ERpos","g":"TGFB1","year":2,"hr":1.08,"s":"o"},{"p":"ERpos","g":"TGFB1","year":3,"hr":1.13,"s":"o"},{"p":"ERpos","g":"TGFB1","year":4,"hr":1.07,"s":"o"},{"p":"ERpos","g":"TGFB1","year":5,"hr":1.06,"s":"o"},{"p":"ERpos","g":"TGFB1","year":6,"hr":1.065,"s":"o"},{"p":"ERpos","g":"TGFB1","year":7,"hr":1.07,"s":"o"},{"p":"ERpos","g":"TGFB1","year":8,"hr":1.04,"s":"o"},{"p":"ERpos","g":"TGFB1","year":9,"hr":1.03,"s":"o"},{"p":"ERpos","g":"TGFB1","year":10,"hr":1.03,"s":"o"},
{"p":"ERpos","g":"TGFB2","year":1,"hr":1.11,"s":"o"},{"p":"ERpos","g":"TGFB2","year":2,"hr":0.95,"s":"o"},{"p":"ERpos","g":"TGFB2","year":3,"hr":0.955,"s":"o"},{"p":"ERpos","g":"TGFB2","year":4,"hr":0.955,"s":"o"},{"p":"ERpos","g":"TGFB2","year":5,"hr":0.955,"s":"o"},{"p":"ERpos","g":"TGFB2","year":6,"hr":0.97,"s":"o"},{"p":"ERpos","g":"TGFB2","year":7,"hr":0.96,"s":"o"},{"p":"ERpos","g":"TGFB2","year":8,"hr":0.98,"s":"o"},{"p":"ERpos","g":"TGFB2","year":9,"hr":0.97,"s":"o"},{"p":"ERpos","g":"TGFB2","year":10,"hr":0.975,"s":"o"},
{"p":"ERpos","g":"TGFB3","year":1,"hr":0.71,"s":"o"},{"p":"ERpos","g":"TGFB3","year":2,"hr":0.69,"s":"f"},{"p":"ERpos","g":"TGFB3","year":3,"hr":0.77,"s":"f"},{"p":"ERpos","g":"TGFB3","year":4,"hr":0.726,"s":"f"},{"p":"ERpos","g":"TGFB3","year":5,"hr":0.75,"s":"f"},{"p":"ERpos","g":"TGFB3","year":6,"hr":0.77,"s":"f"},{"p":"ERpos","g":"TGFB3","year":7,"hr":0.8,"s":"f"},{"p":"ERpos","g":"TGFB3","year":8,"hr":0.78,"s":"f"},{"p":"ERpos","g":"TGFB3","year":9,"hr":0.75,"s":"f"},{"p":"ERpos","g":"TGFB3","year":10,"hr":0.785,"s":"f"},
{"p":"ERpos","g":"TGFBR1","year":1,"hr":1.0,"s":"o"},{"p":"ERpos","g":"TGFBR1","year":2,"hr":0.855,"s":"o"},{"p":"ERpos","g":"TGFBR1","year":3,"hr":0.86,"s":"o"},{"p":"ERpos","g":"TGFBR1","year":4,"hr":0.91,"s":"o"},{"p":"ERpos","g":"TGFBR1","year":5,"hr":0.91,"s":"o"},{"p":"ERpos","g":"TGFBR1","year":6,"hr":0.93,"s":"o"},{"p":"ERpos","g":"TGFBR1","year":7,"hr":0.94,"s":"o"},{"p":"ERpos","g":"TGFBR1","year":8,"hr":0.94,"s":"o"},{"p":"ERpos","g":"TGFBR1","year":9,"hr":0.95,"s":"o"},{"p":"ERpos","g":"TGFBR1","year":10,"hr":0.965,"s":"o"},
{"p":"ERpos","g":"TGFBR2","year":1,"hr":0.57,"s":"f"},{"p":"ERpos","g":"TGFBR2","year":2,"hr":0.645,"s":"f"},{"p":"ERpos","g":"TGFBR2","year":3,"hr":0.665,"s":"f"},{"p":"ERpos","g":"TGFBR2","year":4,"hr":0.66,"s":"f"},{"p":"ERpos","g":"TGFBR2","year":5,"hr":0.715,"s":"r"},{"p":"ERpos","g":"TGFBR2","year":6,"hr":0.73,"s":"r"},{"p":"ERpos","g":"TGFBR2","year":7,"hr":0.74,"s":"r"},{"p":"ERpos","g":"TGFBR2","year":8,"hr":0.73,"s":"f"},{"p":"ERpos","g":"TGFBR2","year":9,"hr":0.745,"s":"f"},{"p":"ERpos","g":"TGFBR2","year":10,"hr":0.756,"s":"rf"}
]
},
"vconcat": [
{
  "data": {"name": "a"},
  "transform": [{"lookup": "p", "from": {"data": {"values": [{"p":"All","label":"All\n(n = 520)"},{"p":"Tle2","label":"T ≤ 2 cm\n(n = 133)"},{"p":"Tgt2","label":"T > 2 cm\n(n = 364)"},{"p":"Nneg","label":"N neg.\n(n = 253)"},{"p":"Npos","label":"N pos.\n(n = 256)"},{"p":"ERneg","label":"ER neg.\n(n = 117)"},{"p":"ERpos","label":"ER pos.\n(n = 396)"}]}, "key": "p", "fields": ["label"]}}],
  "title": {"text": "A", "orient": "top", "anchor": "start", "fontSize": 19, "fontWeight": "normal", "font": "Liberation Sans", "frame": "bounds", "offset": -20},
  "facet": {"column": {"field": "p", "type": "nominal", "sort": ["All","Tle2","Tgt2","Nneg","Npos","ERneg","ERpos"], "header": {"title": "Years of follow-up", "titleOrient": "bottom", "titlePadding": -6, "labels": false}}},
  "spacing": 4,
  "bounds": "flush",
  "spec": {
    "width": 89, "height": 231,
    "layer": [
      {"transform": [{"filter": "datum.g == 'TGFB1' && datum.year == 10"}],
       "mark": {"type": "rect", "fill": "#d9d9d9", "stroke": "#7f7f7f", "strokeWidth": 1},
       "encoding": {"y": {"datum": 4.67, "type": "quantitative"}, "y2": {"datum": 7.41}}},
      {"transform": [{"filter": "datum.g == 'TGFB1' && datum.year == 10"}],
       "mark": {"type": "text", "lineBreak": "\n", "fontSize": 13, "lineHeight": 14, "color": "#1a1a1a", "font": "Liberation Sans", "baseline": "middle"},
       "encoding": {"y": {"datum": 5.88, "type": "quantitative"}, "text": {"field": "label"}}},
      {"mark": {"type": "point", "filled": true, "opacity": 1, "strokeWidth": 1},
       "encoding": {
         "x": {"field": "year", "type": "quantitative", "scale": {"domain": [0.55, 10.45], "nice": false, "zero": false}, "axis": {"values": [1,2,3,4,5,6,7,8,9,10], "format": "d", "labelOverlap": false, "labelFlush": false, "title": null, "grid": true}},
         "y": {"field": "hr", "type": "quantitative", "scale": {"type": "log", "domain": [0.265, 7.41], "nice": false}, "axis": {"values": [0.3,0.5,0.7,1,1.5,2,4], "format": ".1f", "title": "Hazard ratio", "titlePadding": 3, "grid": true}},
         "shape": {"field": "g", "type": "nominal", "scale": {"domain": ["TGFB1","TGFB2","TGFB3","TGFBR1","TGFBR2"], "range": ["circle","square","diamond","triangle-up","triangle-down"]}, "legend": {"title": null, "symbolFillColor": "white", "symbolStrokeColor": "#333333", "symbolStrokeWidth": 1}},
         "size": {"field": "g", "type": "nominal", "scale": {"domain": ["TGFB1","TGFB2","TGFB3","TGFBR1","TGFBR2"], "range": [70, 64, 105, 80, 80]}, "legend": {"title": null, "symbolFillColor": "white", "symbolStrokeColor": "#333333", "symbolStrokeWidth": 1}},
         "fill": {"field": "s", "type": "nominal", "scale": {"domain": ["o","f","r","rf"], "range": ["white","black","white","black"]}, "legend": null},
         "stroke": {"field": "s", "type": "nominal", "scale": {"domain": ["o","f","r","rf"], "range": ["#1a1a1a","#1a1a1a","#ff0000","#ff0000"]}, "legend": null}
       }}
    ]
  }
},
{
  "data": {"name": "b"},
  "transform": [{"lookup": "p", "from": {"data": {"values": [{"p":"All","label":"All\n(n = 289)"},{"p":"Tle2","label":"T ≤ 2 cm\n(n = 126)"},{"p":"Tgt2","label":"T > 2 cm\n(n = 123)"},{"p":"Nneg","label":"N neg.\n(n = 645)"},{"p":"Npos","label":"N pos.\n(n = 81)"},{"p":"ERneg","label":"ER neg.\n(n = 34)"},{"p":"ERpos","label":"ER pos.\n(n = 509)"}]}, "key": "p", "fields": ["label"]}}],
  "title": {"text": "B", "orient": "top", "anchor": "start", "fontSize": 19, "fontWeight": "normal", "font": "Liberation Sans", "frame": "bounds", "offset": -20},
  "facet": {"column": {"field": "p", "type": "nominal", "sort": ["All","Tle2","Tgt2","Nneg","Npos","ERneg","ERpos"], "header": {"title": "Years of follow-up", "titleOrient": "bottom", "titlePadding": -6, "labels": false}}},
  "spacing": 4,
  "bounds": "flush",
  "spec": {
    "width": 89, "height": 231,
    "layer": [
      {"transform": [{"filter": "datum.g == 'TGFBR1' && datum.year == 10"}],
       "mark": {"type": "rect", "fill": "#d9d9d9", "stroke": "#7f7f7f", "strokeWidth": 1},
       "encoding": {"y": {"datum": 1.588, "type": "quantitative"}, "y2": {"datum": 1.943}}},
      {"transform": [{"filter": "datum.g == 'TGFBR1' && datum.year == 10"}],
       "mark": {"type": "text", "lineBreak": "\n", "fontSize": 13, "lineHeight": 14, "color": "#1a1a1a", "font": "Liberation Sans", "baseline": "middle"},
       "encoding": {"y": {"datum": 1.757, "type": "quantitative"}, "text": {"field": "label"}}},
      {"mark": {"type": "point", "filled": true, "opacity": 1, "strokeWidth": 1},
       "encoding": {
         "x": {"field": "year", "type": "quantitative", "scale": {"domain": [0.55, 10.45], "nice": false, "zero": false}, "axis": {"values": [1,2,3,4,5,6,7,8,9,10], "format": "d", "labelOverlap": false, "labelFlush": false, "title": null, "grid": true}},
         "y": {"field": "hr", "type": "quantitative", "scale": {"type": "log", "domain": [0.474, 1.943], "nice": false}, "axis": {"values": [0.5,0.7,1,1.3,1.5], "format": ".1f", "title": "Hazard ratio", "titlePadding": 3, "grid": true}},
         "shape": {"field": "g", "type": "nominal", "scale": {"domain": ["TGFB1","TGFB2","TGFB3","TGFBR1","TGFBR2"], "range": ["circle","square","diamond","triangle-up","triangle-down"]}, "legend": {"title": null, "symbolFillColor": "white", "symbolStrokeColor": "#333333", "symbolStrokeWidth": 1}},
         "size": {"field": "g", "type": "nominal", "scale": {"domain": ["TGFB1","TGFB2","TGFB3","TGFBR1","TGFBR2"], "range": [70, 64, 105, 80, 80]}, "legend": {"title": null, "symbolFillColor": "white", "symbolStrokeColor": "#333333", "symbolStrokeWidth": 1}},
         "fill": {"field": "s", "type": "nominal", "scale": {"domain": ["o","f","r","rf"], "range": ["white","black","white","black"]}, "legend": null},
         "stroke": {"field": "s", "type": "nominal", "scale": {"domain": ["o","f","r","rf"], "range": ["#1a1a1a","#1a1a1a","#ff0000","#ff0000"]}, "legend": null}
       }}
    ]
  }
}
],
"spacing": 10,
"resolve": {"scale": {"shape": "independent", "size": "independent", "fill": "independent", "stroke": "independent"}, "legend": {"shape": "independent", "size": "independent"}}
}
